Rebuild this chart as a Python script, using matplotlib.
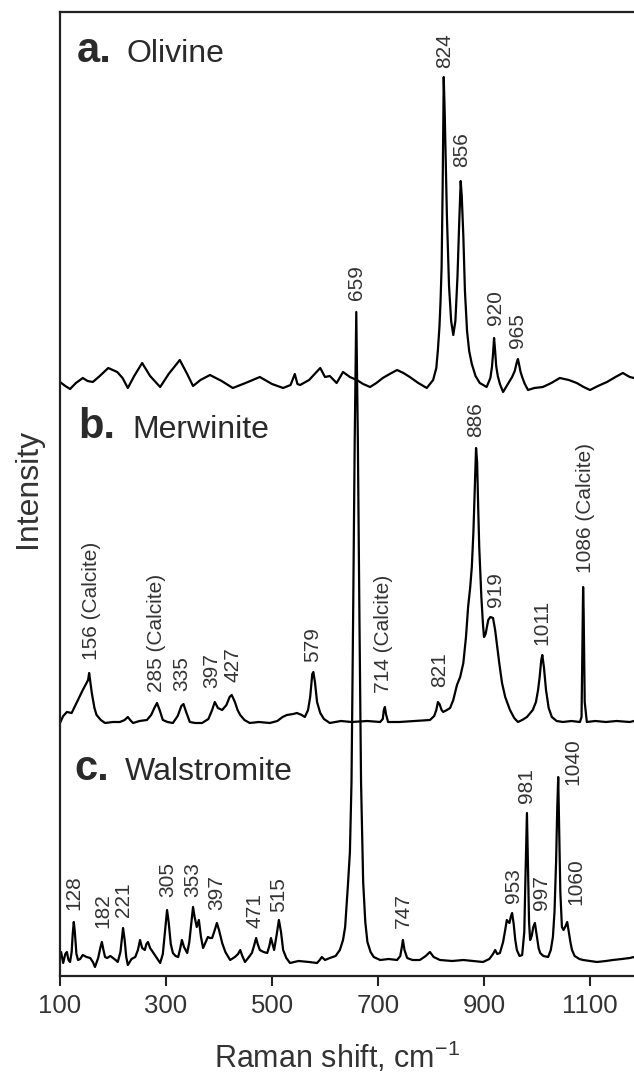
import matplotlib
matplotlib.use("Agg")
import matplotlib.pyplot as plt

plt.rcParams['font.family'] = ['Liberation Sans', 'DejaVu Sans']
plt.rcParams['mathtext.fontset'] = 'custom'
plt.rcParams['mathtext.rm'] = 'Liberation Sans'
plt.rcParams['mathtext.it'] = 'Liberation Sans:italic'
plt.rcParams['mathtext.bf'] = 'Liberation Sans:bold'

# ---------------- data (intensity relative to each spectrum's own baseline) -------------
olv_shift = [100, 110, 119, 130, 143, 152, 162, 175, 191, 208,
             218, 228, 240, 255, 270, 289, 305, 326, 340, 351,
             365, 383, 405, 426, 450, 477, 500, 521, 535, 543,
             548, 553, 570, 591, 600, 609, 622, 634, 647, 660,
             672, 685, 697, 709, 722, 736, 748, 760, 776, 792,
             804, 810, 813, 816, 818, 820, 822, 824, 826, 828,
             830, 834, 838, 842, 846, 850, 853, 856, 858, 861,
             864, 868, 872, 877, 884, 892, 905, 912, 915, 917,
             919, 921, 923, 926, 930, 936, 945, 953, 958, 962,
             964, 966, 969, 972, 977, 983, 995, 1011, 1027, 1043,
             1060, 1075, 1088, 1100, 1115, 1132, 1148, 1162, 1175, 1183]
olv_int = [4, 0, -3, 3, 8, 5, 4, 10, 18, 14,
           8, -2, 10, 23, 10, -1, 12, 26, 12, 0,
           6, 11, 5, -2, 3, 9, 2, -2, 1, 12,
           2, 1, 6, 18, 9, 10, 3, 14, 9, 6,
           2, -1, 3, 8, 12, 16, 13, 9, 3, -2,
           6, 18, 36, 60, 85, 119, 200, 309, 270, 220,
           170, 100, 65, 51, 65, 110, 160, 205, 190, 150,
           95, 55, 35, 22, 10, 3, -1, 8, 19, 32,
           48, 35, 20, 10, 2, -6, 2, 9, 15, 24,
           27, 22, 14, 9, 2, -4, -2, -1, 3, 8,
           6, 3, -1, -4, 0, 4, 9, 13, 9, 8]

mer_shift = [100, 106, 113, 122, 132, 143, 149, 153, 155, 160,
             165, 169, 177, 185, 200, 213, 222, 228, 234, 238,
             250, 264, 272, 278, 283, 288, 294, 303, 313, 322,
             329, 333, 338, 345, 355, 368, 380, 387, 392, 398,
             406, 414, 420, 424, 430, 435, 440, 448, 458, 475,
             496, 510, 520, 528, 540, 547, 556, 562, 568, 572,
             576, 578, 581, 585, 591, 598, 609, 630, 650, 680,
             704, 709, 711, 713, 715, 719, 740, 770, 798, 806,
             810, 813, 816, 820, 823, 830, 836, 842, 849, 855,
             861, 866, 870, 874, 877, 880, 883, 885, 887, 889,
             891, 895, 898, 900, 903, 908, 912, 917, 921, 924,
             929, 934, 940, 949, 957, 964, 972, 981, 992, 998,
             1002, 1005, 1008, 1010, 1013, 1017, 1022, 1028, 1037, 1049,
             1065, 1081, 1084, 1086, 1087, 1088, 1090, 1094, 1110, 1130,
             1150, 1175, 1183]
mer_int = [-1, 6, 10, 9, 20, 32, 38, 42, 49, 29,
           14, 7, 2, -1, 0, 0, 2, 5, 1, -1,
           1, 2, 7, 14, 19, 12, 2, 0, -1, 6,
           16, 18, 10, 0, -1, -1, 3, 12, 20, 14,
           12, 17, 25, 27, 20, 12, 7, 2, -1, 0,
           -1, 1, 5, 7, 8, 9, 7, 5, 12, 25,
           48, 50, 40, 20, 9, 3, -1, 1, 0, 1,
           0, 3, 12, 15, 8, 0, 0, 1, 2, 6,
           12, 20, 18, 12, 10, 12, 14, 22, 37, 45,
           59, 85, 115, 135, 155, 190, 240, 274, 260, 215,
           175, 125, 98, 85, 88, 102, 105, 104, 92, 79,
           58, 39, 25, 12, 4, 0, 2, 5, 12, 20,
           32, 45, 62, 67, 55, 32, 14, 5, 1, 0,
           1, 0, 5, 90, 135, 110, 20, 0, 1, 0,
           1, 0, 1]

wal_shift = [100, 102, 106, 110, 113, 116, 119, 122, 124, 126,
             128, 131, 134, 138, 143, 150, 157, 162, 166, 172,
             176, 179, 182, 185, 189, 195, 200, 205, 209, 214,
             217, 219, 222, 225, 228, 235, 242, 247, 251, 255,
             260, 263, 266, 270, 275, 281, 289, 294, 298, 302,
             305, 309, 313, 318, 323, 327, 330, 334, 340, 344,
             348, 351, 354, 358, 362, 366, 370, 375, 379, 383,
             387, 392, 396, 400, 406, 412, 421, 430, 436, 440,
             444, 449, 455, 462, 466, 470, 473, 477, 484, 491,
             495, 498, 501, 504, 509, 513, 517, 521, 527, 534,
             550, 570, 585, 590, 594, 600, 609, 620, 628, 634,
             638, 643, 647, 650, 653, 656, 659, 662, 665, 668,
             672, 676, 680, 686, 692, 704, 720, 736, 742, 745,
             747, 750, 755, 765, 779, 790, 798, 805, 817, 840,
             861, 880, 898, 910, 917, 921, 925, 930, 936, 940,
             943, 946, 948, 951, 953, 956, 959, 962, 967, 972,
             976, 978, 981, 983, 985, 987, 990, 993, 996, 999,
             1003, 1006, 1012, 1021, 1026, 1030, 1033, 1036, 1038, 1040,
             1042, 1044, 1047, 1050, 1054, 1057, 1060, 1063, 1066, 1071,
             1080, 1087, 1100, 1113, 1130, 1143, 1160, 1175, 1183]
wal_int = [5, 10, -1, 8, 10, 2, 0, 10, 28, 40,
           30, 8, 2, 3, 7, 5, 4, 0, -5, 4,
           14, 20, 12, 5, 4, 6, 4, 2, 0, 10,
           25, 34, 22, 5, -3, 3, 5, 12, 22, 14,
           12, 18, 20, 14, 10, 5, -1, 8, 30, 52,
           40, 18, 9, 6, 5, 14, 22, 15, 9, 20,
           40, 55, 45, 35, 42, 25, 14, 20, 25, 24,
           24, 32, 39, 32, 19, 10, 2, 5, 8, 12,
           6, 0, 4, 9, 16, 24, 18, 12, 10, 9,
           16, 24, 18, 12, 28, 42, 30, 12, 4, -1,
           1, 0, -1, 2, 5, 2, 4, 6, 12, 22,
           35, 75, 110, 180, 342, 520, 650, 520, 342, 180,
           80, 40, 20, 10, 5, 2, 3, 2, 6, 15,
           22, 12, 4, 2, 2, 6, 10, 5, 2, 1,
           2, 1, 0, 3, 8, 12, 8, 9, 20, 32,
           42, 40, 39, 46, 49, 38, 22, 12, 6, 7,
           30, 80, 149, 95, 40, 22, 26, 35, 39, 28,
           14, 9, 6, 5, 12, 25, 50, 100, 150, 185,
           130, 70, 35, 32, 36, 40, 30, 20, 12, 6,
           3, 2, 1, 0, 1, 2, 3, 4, 5]

panel_letters = ['a.', 'b.', 'c.']
panel_names = ['Olivine', 'Merwinite', 'Walstromite']

olv_labels = ['824', '856', '920', '965']
mer_labels = ['156 (Calcite)', '285 (Calcite)', '335', '397', '427', '579',
              '714 (Calcite)', '821', '886', '919', '1011', '1086 (Calcite)']
wal_labels = ['659', '128', '182', '221', '305', '353', '397', '471', '515',
              '747', '953', '981', '997', '1040', '1060']

x_ticks = [100, 300, 500, 700, 900, 1100]

# ---------------- layout ----------------
offsets = [590, 254, 14]          # vertical baseline of each spectrum
olv_label_pos = [(826, 908), (858, 809), (921, 651), (964, 628)]
mer_label_pos = [(160, 316), (283, 284), (330, 285), (387, 288), (426, 294), (577, 314),
                 (711, 283), (817, 289), (885, 539), (921, 369), (1009, 331), (1092, 403)]
wal_label_pos = [(660, 676), (126, 66), (181, 48), (219, 59), (304, 79), (351, 79),
                 (396, 66), (468, 48), (513, 64), (747, 48), (955, 73), (981, 173),
                 (1008, 66), (1068, 191), (1074, 71)]
letter_pos = [(132, 914), (134, 538), (128, 196)]
name_pos = [(226, 914), (236, 538), (223, 196)]

W, H = 634, 1074
fig = plt.figure(figsize=(W / 100, H / 100), dpi=100)
ax = fig.add_axes([60 / W, 1 - 976 / H, 1 - 60 / W, (976 - 12) / H])

line_kw = dict(color='black', lw=1.6, solid_joinstyle='round')
for xs, ys, off in zip([olv_shift, mer_shift, wal_shift], [olv_int, mer_int, wal_int], offsets):
    ax.plot(xs, [v + off for v in ys], **line_kw)

lab_kw = dict(rotation=90, ha='center', va='bottom', fontsize=15, color='#333333')
for texts, poss in [(olv_labels, olv_label_pos), (mer_labels, mer_label_pos), (wal_labels, wal_label_pos)]:
    for t, (x, y) in zip(texts, poss):
        ax.text(x, y, t, **lab_kw)

for letter, name, (lx, ly), (nx, ny) in zip(panel_letters, panel_names, letter_pos, name_pos):
    ax.text(lx, ly, letter, fontsize=30, fontweight='bold', color='#2a2a2a', va='baseline', ha='left')
    ax.text(nx, ny, name, fontsize=23, color='#2a2a2a', va='baseline', ha='left')

ax.set_xlim(100, 1183)
ax.set_ylim(0, 964)
ax.set_xticks(x_ticks)
ax.set_xticklabels([str(t) for t in x_ticks])
ax.set_yticks([])
ax.tick_params(axis='x', direction='out', length=7, width=1.5, labelsize=18.5, pad=6,
               colors='#222222', labelcolor='#333333')
for s in ['left', 'bottom', 'top']:
    ax.spines[s].set_linewidth(1.6)
    ax.spines[s].set_color('#222222')
ax.spines['right'].set_visible(False)

ax.set_xlabel('Raman shift, cm$^{-1}$', fontsize=22, color='#333333')
ax.xaxis.set_label_coords(0.483, -0.066)
ax.set_ylabel('Intensity', fontsize=23, color='#333333')
ax.yaxis.set_label_coords(-0.03, 0.506)

fig.savefig('out.png', dpi=100)
